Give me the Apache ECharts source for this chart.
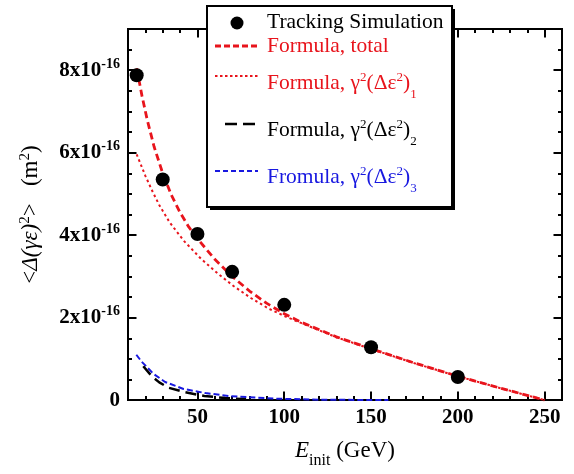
<!DOCTYPE html>
<html><head><meta charset="utf-8">
<script src="https://cdn.jsdelivr.net/npm/echarts@6/dist/echarts.min.js"></script>
<style>html,body{margin:0;padding:0;background:#fff}#c{width:574px;height:474px}</style>
</head><body><div id="c"></div>
<script>
// values in units of 1e-16 m^2
const simE = [15, 30, 50, 70, 100, 150, 200];
const simVal = [7.88, 5.35, 4.03, 3.11, 2.31, 1.28, 0.56];

const totalE = [15, 18, 21, 25, 30, 35, 40, 45, 50, 60, 70, 80, 90, 100, 110, 130, 150, 175, 200, 225, 250];
const totalVal = [8.05, 7.39, 6.81, 6.15, 5.50, 4.97, 4.55, 4.20, 3.915, 3.415, 3.0, 2.645, 2.345, 2.095, 1.885, 1.535, 1.245, 0.90, 0.58, 0.285, 0.0];

const f1E = [15, 20, 24, 28, 34, 42, 52, 62, 71, 81, 91, 100, 110, 130, 150, 175, 200, 225, 250];
const f1Val = [5.96, 5.44, 5.07, 4.73, 4.31, 3.87, 3.43, 3.06, 2.76, 2.47, 2.22, 2.04, 1.865, 1.525, 1.24, 0.895, 0.578, 0.284, 0.0];

const f2E = [18.8, 23.7, 28, 33.4, 43, 54, 66, 78];
const f2Val = [0.82, 0.58, 0.43, 0.30, 0.19, 0.10, 0.05, 0.02];

const f3E = [14.8, 17.9, 24.6, 31.4, 42, 54.6, 68, 83.5, 95, 120, 160];
const f3Val = [1.10, 0.93, 0.64, 0.44, 0.27, 0.17, 0.10, 0.06, 0.035, 0.01, 0.0];

const xMajor = [50, 100, 150, 200, 250];
const xMinor = [20, 30, 40, 60, 70, 80, 90, 110, 120, 130, 140, 160, 170, 180, 190, 210, 220, 230, 240];
const yMajor = [0, 2, 4, 6, 8];
const yMinor = [0.5, 1, 1.5, 2.5, 3, 3.5, 4.5, 5, 5.5, 6.5, 7, 7.5, 8.5];

const FONT = 'Liberation Serif';
const RED = '#e8141c', BLUE = '#1818e0';
const pairs = (xs, ys) => xs.map((x, i) => [x, ys[i]]);

function xAx(pos, ticks, len, labels) {
  return {
    type: 'value', position: pos, min: 10, max: 260,
    axisLine: { show: true, onZero: false, lineStyle: { color: '#000', width: 2 } },
    axisTick: { show: true, inside: true, length: len, customValues: ticks, lineStyle: { color: '#000', width: 2 } },
    axisLabel: labels ? { show: true, customValues: ticks, margin: 7, color: '#000',
      fontFamily: FONT, fontWeight: 'bold', fontSize: 21 } : { show: false },
    splitLine: { show: false }
  };
}
function yAx(pos, ticks, len, labels) {
  return {
    type: 'value', position: pos, min: 0, max: 9,
    axisLine: { show: true, onZero: false, lineStyle: { color: '#000', width: 2 } },
    axisTick: { show: true, inside: true, length: len, customValues: ticks, lineStyle: { color: '#000', width: 2 } },
    axisLabel: labels ? { show: true, customValues: ticks, margin: 8,
      formatter: v => v === 0 ? '{a|0}' : '{a|' + v + 'x10}{s|-16}',
      rich: {
        a: { fontFamily: FONT, fontWeight: 'bold', fontSize: 21, color: '#000', lineHeight: 24 },
        s: { fontFamily: FONT, fontWeight: 'bold', fontSize: 14, color: '#000', lineHeight: 14, padding: [0, 0, 12, 0] }
      } } : { show: false },
    splitLine: { show: false }
  };
}

const xAxes = [xAx('bottom', xMajor, 8.5, true), xAx('bottom', xMinor, 4, false), xAx('top', xMajor, 8.5, false), xAx('top', xMinor, 4, false)];
xAxes[0].name = '{i|E}{sub|init}{n| (GeV)}';
xAxes[0].nameLocation = 'middle';
xAxes[0].nameGap = 33;
xAxes[0].nameTextStyle = {
  rich: {
    i: { fontFamily: FONT, fontStyle: 'italic', fontSize: 23, color: '#000', lineHeight: 26 },
    sub: { fontFamily: FONT, fontSize: 16, color: '#000', lineHeight: 16, padding: [20, 0, 0, 0] },
    n: { fontFamily: FONT, fontSize: 23, color: '#000', lineHeight: 26 }
  }
};
const yAxes = [yAx('left', yMajor, 8.5, true), yAx('left', yMinor, 4, false), yAx('right', yMajor, 8.5, false), yAx('right', yMinor, 4, false)];
yAxes[0].name = '{n|<}{i|Δ(γε)}{s|2}{n|>   (m}{s|2}{n|)}';
yAxes[0].nameLocation = 'middle';
yAxes[0].nameRotate = 90;
yAxes[0].nameGap = 84;
yAxes[0].nameTextStyle = {
  rich: {
    n: { fontFamily: FONT, fontSize: 23, color: '#000', lineHeight: 26 },
    i: { fontFamily: FONT, fontStyle: 'italic', fontSize: 23, color: '#000', lineHeight: 26 },
    s: { fontFamily: FONT, fontSize: 15, color: '#000', lineHeight: 15, padding: [0, 0, 11, 0] }
  }
};

const lineSeries = (name, data, color, width, dash, z) => ({
  name, type: 'line', data, showSymbol: false, smooth: false,
  lineStyle: { color, width, type: dash, join: 'round' }, z, silent: true, animation: false
});

const legendText = (y, text, color) => ({
  type: 'text', z: 102,
  style: {
    x: 267, y, text, fill: color, verticalAlign: 'middle', align: 'left',
    fontFamily: FONT, fontSize: 21.5,
    rich: {
      t: { fontFamily: FONT, fontSize: 21.5, fill: color, lineHeight: 24 },
      sup: { fontFamily: FONT, fontSize: 13, fill: color, lineHeight: 13, padding: [0, 0, 10, 0] },
      sub: { fontFamily: FONT, fontSize: 13, fill: color, lineHeight: 13, padding: [24, 0, 0, 0] }
    }
  }
});
const legendLine = (x1, x2, y, color, width, dash) => ({
  type: 'line', z: 102, shape: { x1, y1: y, x2, y2: y },
  style: { stroke: color, lineWidth: width, lineDash: dash }
});

const option = {
  animation: false,
  backgroundColor: '#fff',
  grid: { left: 128, right: 12, top: 29, bottom: 70, containLabel: false },
  xAxis: xAxes,
  yAxis: yAxes,
  series: [
    lineSeries('Formula, γ²(Δε²)₃', pairs(f3E, f3Val), BLUE, 2, [6, 3], 2),
    lineSeries('Formula, γ²(Δε²)₂', pairs(f2E, f2Val), '#000', 2.5, [11, 6], 3),
    lineSeries('Formula, γ²(Δε²)₁', pairs(f1E, f1Val), RED, 2, [2.5, 3], 4),
    lineSeries('Formula, total', pairs(totalE, totalVal), RED, 2.8, [7, 4], 5),
    { name: 'Tracking Simulation', type: 'scatter', data: pairs(simE, simVal), symbol: 'circle', symbolSize: 14,
      itemStyle: { color: '#000', opacity: 1 }, z: 10, silent: true }
  ],
  graphic: [
    { type: 'rect', z: 100, shape: { x: 210, y: 9, width: 245, height: 201 }, style: { fill: '#000' } },
    { type: 'rect', z: 101, shape: { x: 207, y: 6, width: 245, height: 201 }, style: { fill: '#fff', stroke: '#000', lineWidth: 2 } },
    { type: 'circle', z: 102, shape: { cx: 237, cy: 23, r: 6.5 }, style: { fill: '#000' } },
    legendText(22, '{t|Tracking Simulation}', '#000'),
    legendLine(215, 258, 46, RED, 2.8, [6, 3]),
    legendText(46, '{t|Formula, total}', RED),
    legendLine(215, 258, 76, RED, 2, [2.5, 2.5]),
    legendText(83, '{t|Formula, γ}{sup|2}{t|(Δε}{sup|2}{t|)}{sub|1}', RED),
    legendLine(225, 255, 124, '#000', 2.5, [12, 6]),
    legendText(130, '{t|Formula, γ}{sup|2}{t|(Δε}{sup|2}{t|)}{sub|2}', '#000'),
    legendLine(215, 258, 171, BLUE, 2, [5, 3]),
    legendText(177, '{t|Fromula, γ}{sup|2}{t|(Δε}{sup|2}{t|)}{sub|3}', BLUE)
  ]
};
const chart = echarts.init(document.getElementById('c'), null, { renderer: 'canvas' });
chart.setOption(option);
</script>
</body></html>
